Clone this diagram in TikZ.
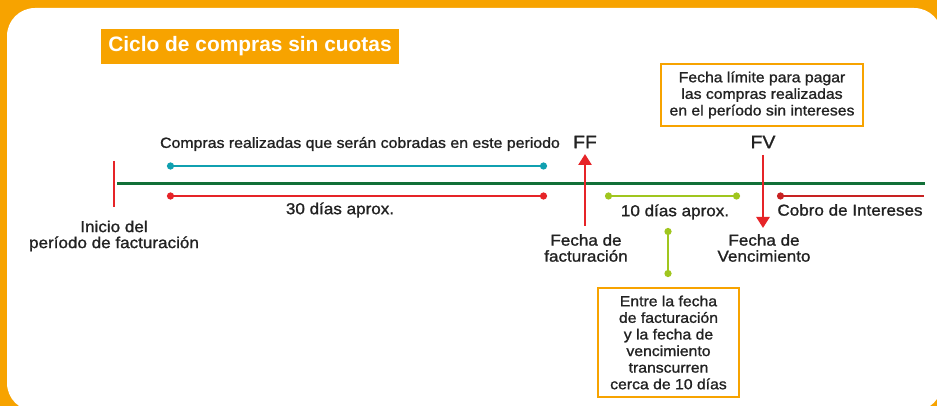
\documentclass[tikz,border=0pt]{standalone}
\usepackage{fontspec}
\setmainfont{Liberation Sans}
\newfontfamily\medfont[FakeBold=1.2,FakeStretch=1.08]{Liberation Sans}
\usetikzlibrary{arrows.meta}
\definecolor{orng}{RGB}{247,163,0}
\definecolor{dgreen}{RGB}{18,112,56}
\definecolor{teal2}{RGB}{16,160,176}
\definecolor{red2}{RGB}{230,36,40}
\definecolor{red3}{RGB}{200,34,34}
\definecolor{lime2}{RGB}{160,198,30}
\definecolor{txtc}{RGB}{34,34,34}
\tikzset{
  lbl/.style={text=txtc, font=\medfont\fontsize{15.8}{16}\selectfont, align=center, inner sep=0},
  big/.style={text=txtc, font=\medfont\fontsize{18}{20}\selectfont, inner sep=0},
  obox/.style={draw=orng, line width=2.2pt, fill=white, text=txtc, font=\medfont\fontsize{14.6}{16.6}\selectfont, align=center, inner sep=0},
  seg/.style={line width=2.6pt, {Circle[length=7pt]}-{Circle[length=7pt]}},
  segone/.style={line width=2.6pt, {Circle[length=7pt]}-},
  redarrow/.style={draw=red2, line width=2.6pt, -{Triangle[width=13pt,length=11pt]}},
}
\begin{document}
\begin{tikzpicture}[x=1pt,y=-1pt]
\useasboundingbox (0,0) rectangle (937,406);
\clip (0,0) rectangle (937,406);
\fill[orng] (0,0) rectangle (937,406);
\fill[white, rounded corners=28pt] (7,8) rectangle (942,411);

\node[fill=orng, text=white, font=\bfseries\fontsize{20.9}{22}\selectfont, minimum width=298, minimum height=35, inner sep=0] (title) at (250,46.5) {Ciclo de compras sin cuotas};

% main line and start tick
\coordinate (m0) at (117,184);
\coordinate (m1) at (925,184);
\draw[dgreen, line width=3pt] (m0) -- (m1);
\coordinate (s0) at (114,161);
\coordinate (s1) at (114,207);
\draw[red2, line width=2.6pt] (s0) -- (s1);

% segments
\coordinate (t0) at (167,166);
\coordinate (t1) at (547,166);
\draw[seg, teal2] (t0) -- (t1);
\coordinate (r0) at (167,196);
\coordinate (r1) at (547,196);
\draw[seg, red2] (r0) -- (r1);
\coordinate (g0) at (605,196);
\coordinate (g1) at (740,196);
\draw[seg, lime2] (g0) -- (g1);
\coordinate (c0) at (777,196);
\coordinate (c1) at (924,196);
\draw[segone, red3] (c0) -- (c1);

% arrows
\coordinate (ff0) at (585,226);
\coordinate (ff1) at (585,154);
\draw[redarrow] (ff0) -- (ff1);
\coordinate (fv0) at (763,155);
\coordinate (fv1) at (763,228);
\draw[redarrow] (fv0) -- (fv1);

% labels
\node[lbl, font=\medfont\fontsize{14.7}{16}\selectfont] (compras) at (360,144) {Compras realizadas que serán cobradas en este periodo};
\node[lbl] (d30) at (340,210) {30 días aprox.};
\node[big] (ff) at (585,142) {FF};
\node[big] (fv) at (763,142) {FV};
\node[lbl] (d10) at (675,212) {10 días aprox.};
\node[lbl] (cobro) at (850,210) {Cobro de Intereses};
\node[lbl] (ffl) at (586,248) {Fecha de\\facturación};
\node[lbl] (fvl) at (764,248) {Fecha de\\Vencimiento};
\node[lbl] (ini) at (114,236) {Inicio del\\período de facturación};

% boxes
\node[obox, minimum width=202, minimum height=62] (top) at (762,95) {Fecha límite para pagar\\las compras realizadas\\en el período sin intereses};
\node[obox, minimum width=141, minimum height=109] (bot) at (668.5,342.5) {Entre la fecha\\de facturación\\y la fecha de\\vencimiento\\transcurren\\cerca de 10 días};

% connector
\coordinate (v0) at (668,228);
\coordinate (v1) at (668,277);
\draw[seg, lime2] (v0) -- (v1);
\end{tikzpicture}
\end{document}
